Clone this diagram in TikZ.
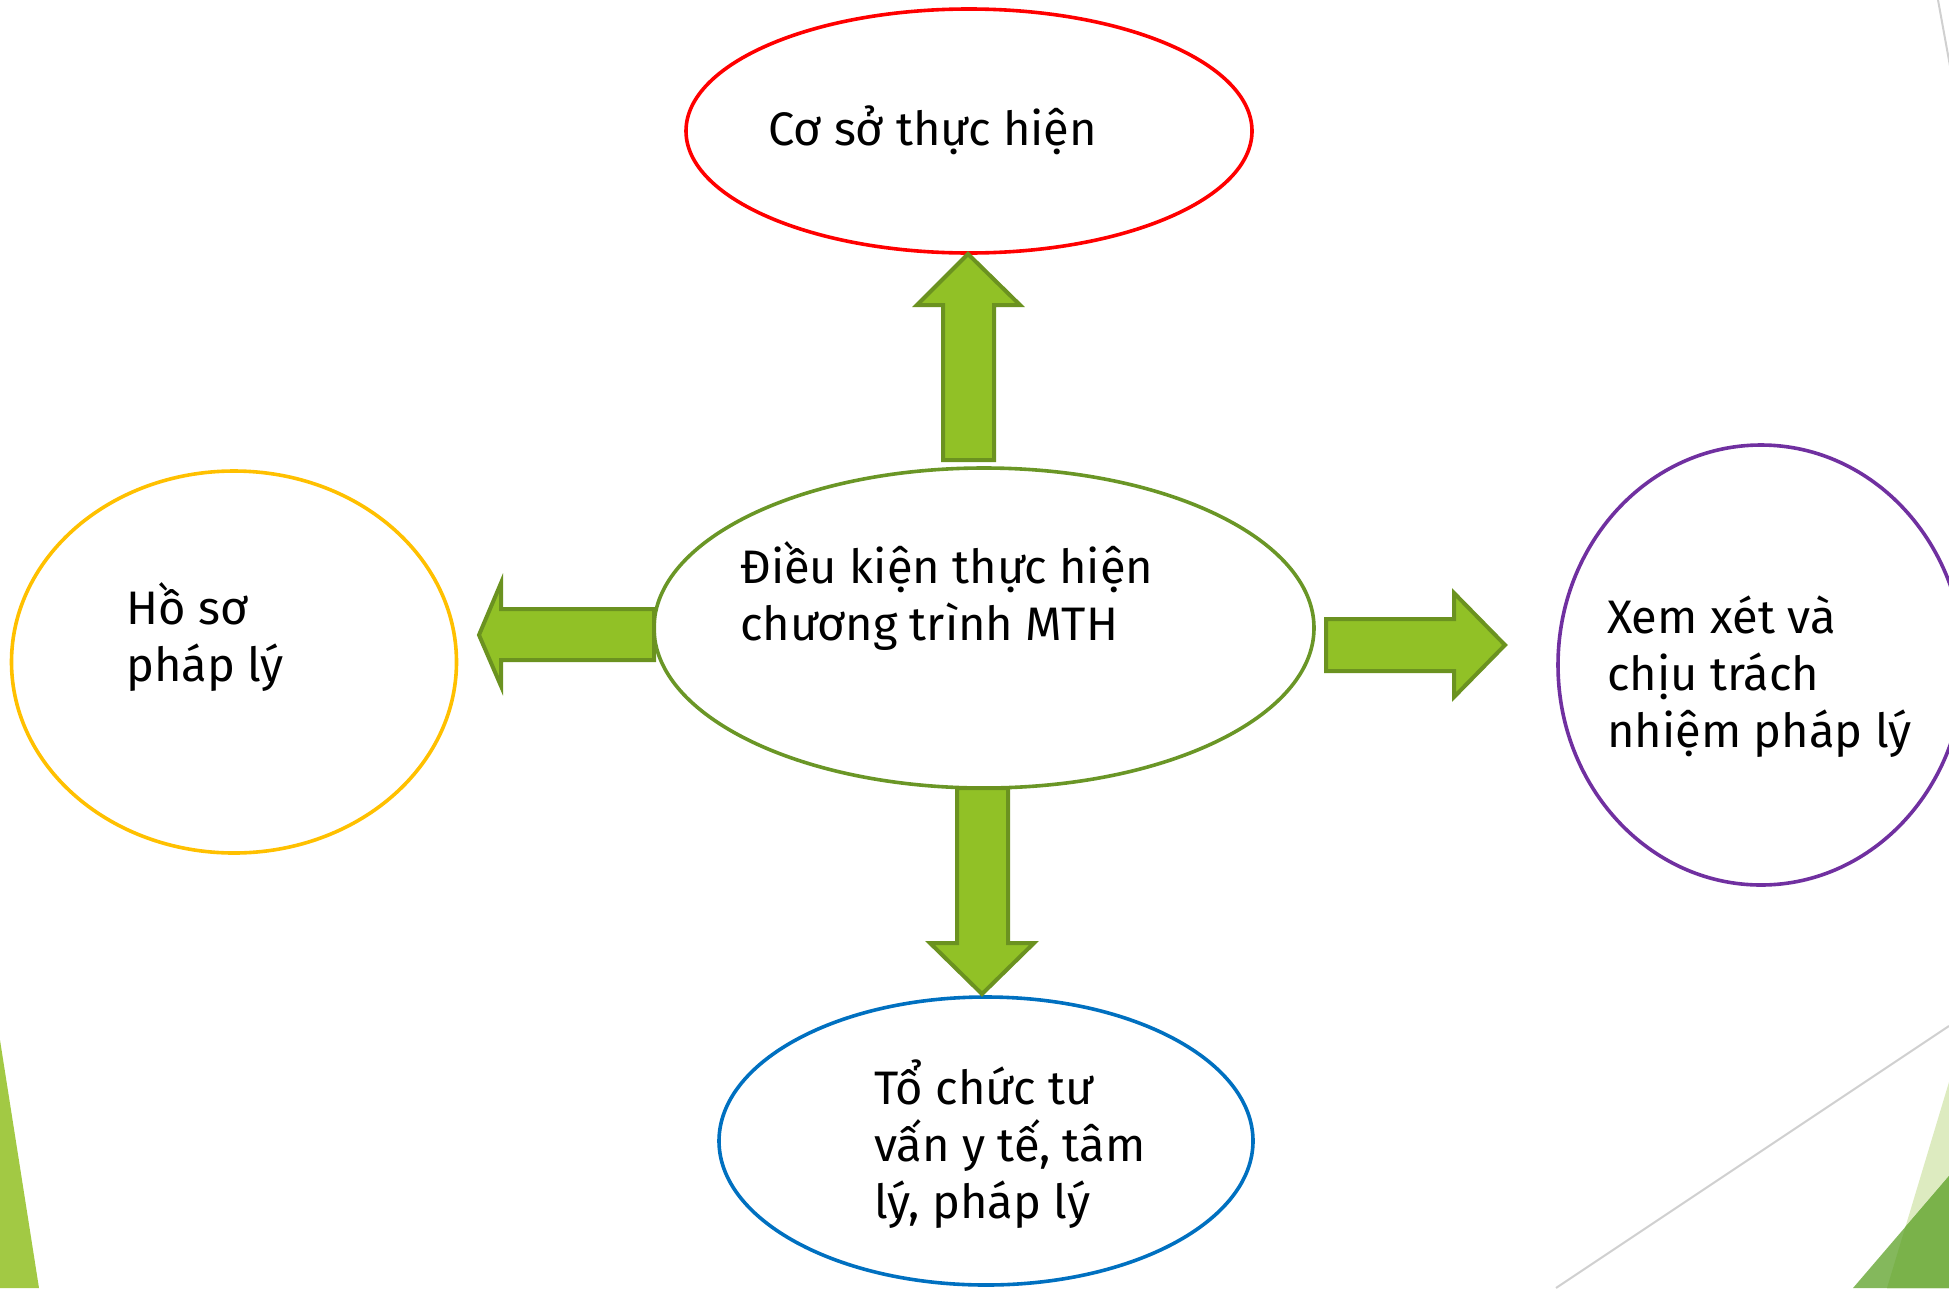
\documentclass[tikz,border=0pt]{standalone}
\usepackage{fontspec}
\setmainfont{Fira Sans}
\usetikzlibrary{shapes.geometric}
\definecolor{leftgreen}{HTML}{A2C944}
\definecolor{lightgreen}{HTML}{DDEBC0}
\definecolor{midgreen}{HTML}{84B85C}
\definecolor{darkgreen}{HTML}{7AB24A}
\definecolor{decogray}{HTML}{D0D0D0}
\definecolor{arrowfill}{HTML}{91C126}
\definecolor{arrowline}{HTML}{6B9220}
\definecolor{centerline}{HTML}{6A9626}
\definecolor{ellred}{HTML}{FF0000}
\definecolor{ellyellow}{HTML}{FFC000}
\definecolor{ellpurple}{HTML}{7030A0}
\definecolor{ellblue}{HTML}{0070C0}
\newcommand{\blocklines}[1]{\vtop{\baselineskip=57pt #1}}
\begin{document}
\begin{tikzpicture}[x=1pt,y=-1pt,
  ell/.style={ellipse, line width=3.6pt, fill=white, inner sep=0pt},
  blockarrow/.style={fill=arrowfill, draw=arrowline, line width=4pt, line join=miter},
  txt/.style={anchor=base west, inner sep=0pt, font=\fontsize{47}{57}\selectfont, text=black},
  deco/.style={draw=decogray, line width=2pt}]
\useasboundingbox (0,0) rectangle (1949,1288);
% background decorations
\fill[leftgreen] (0,1040) -- (39,1288) -- (0,1288) -- cycle;
\draw[deco] (1556,1288) -- (1949,1026);
\draw[deco] (1938,0) -- (1950,66);
\fill[lightgreen] (1949,1082) -- (1887,1288) -- (1949,1288) -- cycle;
\fill[midgreen] (1949,1176) -- (1853,1288) -- (1949,1288) -- cycle;
\fill[darkgreen] (1905.4,1226.9) -- (1887,1288) -- (1949,1288) -- (1949,1176) -- cycle;
% ellipses
\node[ell, draw=ellred, minimum width=566, minimum height=244] (top) at (969,131) {};
\node[ell, draw=centerline, minimum width=660, minimum height=320] (center) at (984,628) {};
\node[ell, draw=ellyellow, minimum width=445, minimum height=382] (left) at (234,662) {};
\node[ell, draw=ellpurple, minimum width=406, minimum height=440] (right) at (1761,665) {};
\node[ell, draw=ellblue, minimum width=534, minimum height=288] (bottom) at (986,1141) {};
% block arrows
\draw[blockarrow] (968,254) -- (1020,305) -- (994,305) -- (994,460) -- (943,460) -- (943,305) -- (917,305) -- cycle;
\draw[blockarrow] (982,994) -- (1034,943) -- (1008,943) -- (1008,788) -- (957,788) -- (957,943) -- (930,943) -- cycle;
\draw[blockarrow] (479,635) -- (501,583) -- (501,609) -- (654,609) -- (654,660) -- (501,660) -- (501,686) -- cycle;
\draw[blockarrow] (1505,645) -- (1454,593) -- (1454,619) -- (1326,619) -- (1326,671) -- (1454,671) -- (1454,697) -- cycle;
% texts
\node[txt] (ttop) at (768,145) {Cơ sở thực hiện};
\node[txt] (tcenter) at (740,583) {\blocklines{\hbox{Điều kiện thực hiện}\hbox{chương trình MTH}}};
\node[txt] (tleft) at (126,624) {\blocklines{\hbox{Hồ sơ}\hbox{pháp lý}}};
\node[txt] (tright) at (1607,633) {\blocklines{\hbox{Xem xét và}\hbox{chịu trách}\hbox{nhiệm pháp lý}}};
\node[txt] (tbottom) at (874,1104) {\blocklines{\hbox{Tổ chức tư}\hbox{vấn y tế, tâm}\hbox{lý, pháp lý}}};
\end{tikzpicture}
\end{document}
